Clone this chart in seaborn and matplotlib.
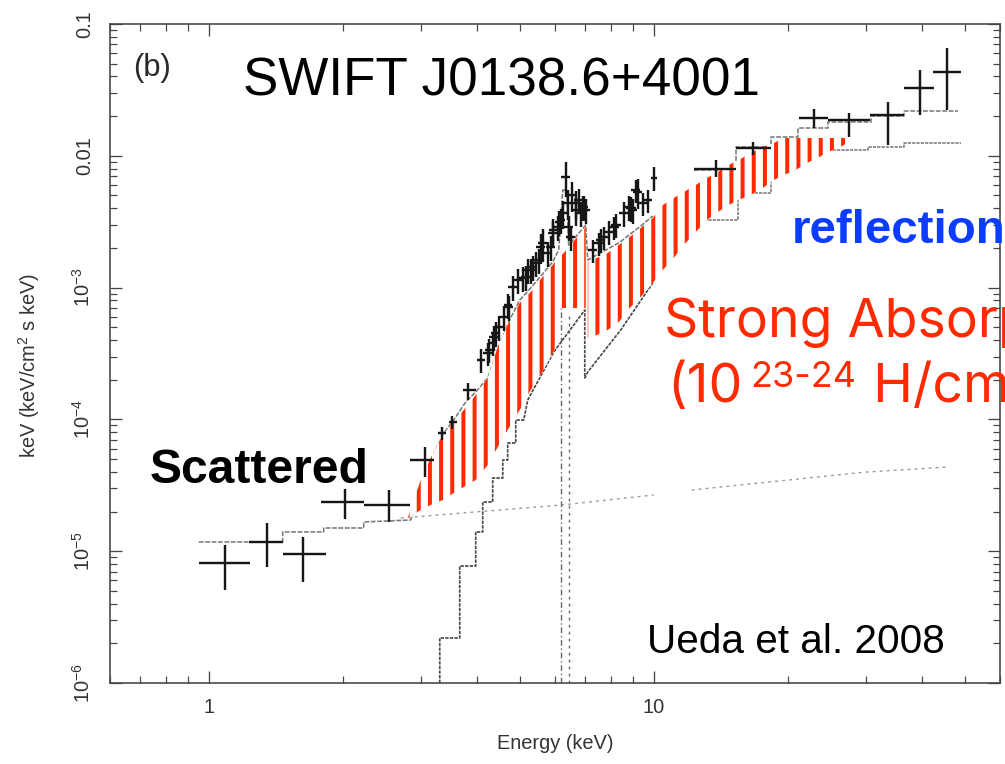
import numpy as np
import matplotlib
matplotlib.use("Agg")
import matplotlib.pyplot as plt
import seaborn as sns
from matplotlib.ticker import NullFormatter, LogLocator

# ---------------- data (Energy keV, E*F_E in keV/cm^2 s keV) ----------------
# broad low-energy bins
low_E   = [1.09, 1.35, 1.63, 2.02, 2.54, 3.07, 3.34, 3.53, 3.82]
low_Elo = [0.95, 1.23, 1.47, 1.79, 2.23, 2.84, 3.27, 3.46, 3.73]
low_Ehi = [1.24, 1.47, 1.83, 2.23, 2.83, 3.20, 3.42, 3.62, 3.98]
low_F   = [8.1e-6, 1.18e-5, 9.5e-6, 2.36e-5, 2.24e-5, 4.92e-5, 7.88e-5, 9.56e-5, 1.67e-4]
low_Flo = [5.1e-6, 7.6e-6, 5.8e-6, 1.75e-5, 1.66e-5, 3.66e-5, 7.0e-5, 8.5e-5, 1.4e-4]
low_Fhi = [1.11e-5, 1.64e-5, 1.29e-5, 2.96e-5, 2.90e-5, 6.2e-5, 8.8e-5, 1.07e-4, 1.9e-4]

# fine XIS bins
xis_E = [4.09, 4.236, 4.26, 4.347, 4.37, 4.416, 4.485, 4.60, 4.70, 4.723,
         4.82, 4.947, 5.08, 5.157, 5.211, 5.29, 5.347, 5.43, 5.515, 5.57,
         5.63, 5.78, 5.869, 5.929, 5.95, 6.09, 6.12, 6.19, 6.25, 6.34,
         6.408, 6.44, 6.51, 6.543, 6.68, 6.70, 6.784, 6.855, 6.92, 6.961,
         7.03, 7.29, 7.524, 7.60, 7.721, 7.92, 8.131, 8.22, 8.56, 8.784,
         8.88, 8.969, 9.11, 9.20, 9.44, 9.69, 10.0]
xis_F = [2.83e-4, 3.19e-4, 3.37e-4, 3.80e-4, 4.22e-4, 4.52e-4, 5.02e-4, 5.98e-4, 7.38e-4, 7.13e-4,
         1.01e-3, 1.142e-3, 1.18e-3, 1.203e-3, 1.36e-3, 1.36e-3, 1.433e-3, 1.54e-3, 1.62e-3, 2.03e-3,
         2.18e-3, 1.83e-3, 2.03e-3, 2.596e-3, 2.73e-3, 2.883e-3, 3.15e-3, 3.258e-3, 3.68e-3, 6.9e-3,
         4.38e-3, 2.88e-3, 2.42e-3, 5.04e-3, 3.88e-3, 4.39e-3, 4.62e-3, 3.68e-3, 4.09e-3, 4.09e-3,
         3.88e-3, 1.93e-3, 2.18e-3, 2.30e-3, 2.42e-3, 2.65e-3, 2.883e-3, 2.99e-3, 3.68e-3, 4.09e-3,
         4.02e-3, 3.88e-3, 5.50e-3, 5.31e-3, 4.38e-3, 4.62e-3, 6.8e-3]
xis_ferr = [0.2, 0.2, 0.2, 0.2, 0.22, 0.22, 0.22, 0.22, 0.22, 0.22,
            0.22, 0.22, 0.22, 0.22, 0.22, 0.22, 0.22, 0.22, 0.22, 0.26,
            0.28, 0.22, 0.22, 0.22, 0.22, 0.22, 0.22, 0.22, 0.24, 0.3,
            0.26, 0.22, 0.22, 0.26, 0.24, 0.24, 0.22, 0.22, 0.22, 0.22,
            0.22, 0.2, 0.2, 0.2, 0.2, 0.2, 0.2, 0.2, 0.22, 0.22,
            0.22, 0.22, 0.2, 0.26, 0.2, 0.2, 0.2]
xis_eerr = [0.022, 0.022, 0.022, 0.022, 0.022, 0.022, 0.022, 0.022, 0.022, 0.022,
            0.022, 0.022, 0.022, 0.022, 0.022, 0.022, 0.022, 0.022, 0.022, 0.022,
            0.022, 0.022, 0.022, 0.022, 0.022, 0.022, 0.022, 0.022, 0.022, 0.022,
            0.022, 0.022, 0.022, 0.022, 0.022, 0.022, 0.022, 0.022, 0.022, 0.022,
            0.022, 0.025, 0.025, 0.025, 0.025, 0.025, 0.025, 0.025, 0.025, 0.025,
            0.025, 0.025, 0.025, 0.025, 0.025, 0.025, 0.015]

# hard X-ray bins
hxd_E   = [13.8, 16.69, 22.9, 27.4, 33.6, 39.6, 45.5]
hxd_Elo = [12.3, 15.29, 21.2, 24.6, 30.7, 36.5, 42.4]
hxd_Ehi = [15.3, 18.32, 24.6, 30.7, 36.5, 42.6, 49.0]
hxd_F   = [8.0e-3, 1.15e-2, 0.0194, 0.0187, 0.0204, 0.0327, 0.0433]
hxd_Flo = [6.9e-3, 1.014e-2, 0.0163, 0.0139, 0.01208, 0.0204, 0.0223]
hxd_Fhi = [9.3e-3, 1.273e-2, 0.0225, 0.0211, 0.0256, 0.0448, 0.0658]

# total model (XIS part, polyline incl. step corners)
tot_xis_E = [0.95, 1.466, 1.466, 1.813, 1.813, 2.23, 2.23, 2.843, 3.154, 3.375, 3.553,
             3.78, 3.981, 4.236, 4.461, 4.723, 4.999, 5.292, 5.602, 5.929, 6.117,
             6.246, 6.376, 6.44, 6.645, 7.035, 7.108, 7.446, 8.343, 9.35, 9.949]
tot_xis_F = [1.175e-5, 1.175e-5, 1.40e-5, 1.40e-5, 1.50e-5, 1.50e-5, 1.667e-5, 1.725e-5,
             4.92e-5, 7.88e-5, 9.89e-5, 1.355e-4, 1.614e-4, 2.061e-4, 3.362e-4, 5.48e-4,
             8.05e-4, 9.93e-4, 1.246e-3, 1.564e-3, 1.929e-3, 5.50e-3, 5.50e-3, 2.104e-3,
             2.378e-3, 2.985e-3, 1.620e-3, 1.768e-3, 2.180e-3, 2.933e-3, 3.492e-3]
# total model (hard X-ray part, step edges / levels)
tot_hxd_E = [12.30, 15.29, 18.32, 21.07, 24.60, 30.73, 36.46, 48.21]
tot_hxd_F = [7.80e-3, 1.166e-2, 1.389e-2, 1.625e-2, 1.805e-2, 2.004e-2, 2.188e-2, 2.188e-2]

# absorbed transmitted component
tr_xis_E = [3.305, 3.305, 3.665, 3.665, 3.981, 3.981, 4.128, 4.128, 4.347, 4.347, 4.579,
            4.579, 4.697, 4.697, 4.897, 4.897, 5.104, 5.211, 5.96, 7.00, 7.00, 7.108,
            8.43, 9.949]
tr_xis_F = [1.0e-6, 2.195e-6, 2.195e-6, 7.72e-6, 7.72e-6, 1.40e-5, 1.40e-5, 2.362e-5,
            2.362e-5, 3.593e-5, 3.593e-5, 4.92e-5, 4.92e-5, 6.62e-5, 6.62e-5, 9.89e-5,
            9.89e-5, 1.404e-4, 3.245e-4, 6.76e-4, 2.061e-4, 2.289e-4, 4.77e-4, 1.083e-3]
tr_hxd_E = [12.95, 15.44, 18.32, 20.64, 24.10, 30.26, 36.46, 48.97]
tr_hxd_F = [3.258e-3, 5.22e-3, 7.80e-3, 1.050e-2, 1.107e-2, 1.166e-2, 1.250e-2, 1.250e-2]

# scattered component
sc_xis_E = [2.701, 6.19, 10.0]
sc_xis_F = [1.786e-5, 2.24e-5, 2.67e-5]
sc_hxd_E = [12.17, 29.8, 46.0]
sc_hxd_F = [2.913e-5, 3.98e-5, 4.355e-5]

# narrow iron lines
line_E = [6.19, 6.44]
line_top = [7.0e-4, 6.5e-4]

# hatched "strong absorption" band: low-energy side of the iron edge
hA_E  = [2.801, 2.995, 3.154, 3.357, 3.553, 3.741, 3.981, 4.236, 4.461, 4.723, 4.999,
         5.292, 5.602, 5.929, 5.991, 6.053, 6.278, 6.645, 7.035]
hA_hi = [1.786e-5, 3.469e-5, 5.095e-5, 7.61e-5, 9.56e-5, 1.178e-4, 1.531e-4, 2.061e-4,
         3.542e-4, 5.385e-4, 7.64e-4, 9.26e-4, 1.183e-3, 1.484e-3, 1.564e-3, 1.620e-3,
         1.830e-3, 2.297e-3, 2.883e-3]
hA_lo = [1.786e-5, 2.054e-5, 2.244e-5, 2.446e-5, 2.764e-5, 3.07e-5, 3.469e-5, 4.51e-5,
         6.17e-5, 8.60e-5, 1.178e-4, 1.672e-4, 2.249e-4, 3.19e-4, 3.362e-4, 7.00e-4,
         7.00e-4, 7.00e-4, 7.00e-4]
# high-energy side of the iron edge
hB_E  = [7.108, 7.446, 7.882, 8.343, 8.831, 9.350, 9.949, 10.48, 11.09, 11.68, 12.43,
         13.16, 13.93, 14.74, 15.52, 16.52, 17.58, 18.61, 19.60, 20.85, 22.07, 23.36,
         24.60, 26.04, 27.72]
hB_hi = [1.564e-3, 1.677e-3, 1.830e-3, 2.104e-3, 2.420e-3, 2.833e-3, 3.374e-3, 4.232e-3,
         4.783e-3, 5.313e-3, 6.004e-3, 6.785e-3, 7.536e-3, 8.516e-3, 9.29e-3, 1.050e-2,
         1.166e-2, 1.250e-2, 1.365e-2, 1.365e-2, 1.365e-2, 1.365e-2, 1.365e-2, 1.365e-2,
         1.365e-2]
hB_lo = [4.145e-4, 4.37e-4, 4.77e-4, 5.48e-4, 7.00e-4, 8.49e-4, 1.083e-3, 1.360e-3,
         1.677e-3, 2.104e-3, 2.642e-3, 3.258e-3, 3.746e-3, 4.232e-3, 4.62e-3, 5.04e-3,
         5.70e-3, 6.55e-3, 7.15e-3, 7.80e-3, 8.82e-3, 9.62e-3, 1.069e-2, 1.146e-2,
         1.296e-2]

xtick_vals = [1, 10]
xtick_labels = ["1", "10"]
ytick_vals = [1e-1, 1e-2, 1e-3, 1e-4, 1e-5, 1e-6]
ytick_labels = ["0.1", "0.01", r"$\mathregular{10^{-3}}$", r"$\mathregular{10^{-4}}$",
                r"$\mathregular{10^{-5}}$", r"$\mathregular{10^{-6}}$"]

# ---------------- style ----------------
DPI = 67
PT = 72.0 / DPI
RED = "#ff2a00"
BLUE = "#0b3cff"
sns.set_theme(style="ticks")
plt.rcParams["font.family"] = ["Liberation Sans", "DejaVu Sans"]
plt.rcParams["mathtext.fontset"] = "custom"
plt.rcParams["mathtext.rm"] = "Liberation Sans"
plt.rcParams["hatch.linewidth"] = 4.0 * PT
plt.rcParams["hatch.color"] = RED

fig = plt.figure(figsize=(1005 / DPI, 764 / DPI), dpi=DPI)
fig.patch.set_facecolor("white")
ax = fig.add_axes([110 / 1005, 1 - 683 / 764, 890 / 1005, 659 / 764])
ax.set_xscale("log")
ax.set_yscale("log")
ax.set_facecolor("white")

GRAY = "#7a7a7a"
DARK = "#4a4a4a"

def model(E, F, **kw):
    sns.lineplot(x=E, y=F, ax=ax, sort=False, estimator=None, legend=False, **kw)

model(tot_xis_E, tot_xis_F, color=GRAY, lw=1.6 * PT, linestyle=(0, (3, 1)), zorder=2)
model(tot_hxd_E, tot_hxd_F, color=GRAY, lw=1.6 * PT, linestyle=(0, (3, 1)),
      drawstyle="steps-post", zorder=2)
model(tr_xis_E, tr_xis_F, color=DARK, lw=1.7 * PT, linestyle=(0, (2, 0.7)), zorder=2)
model(tr_hxd_E, tr_hxd_F, color=GRAY, lw=1.6 * PT, linestyle=(0, (2, 0.7)),
      drawstyle="steps-post", zorder=2)
model(sc_xis_E, sc_xis_F, color="#999999", lw=1.4 * PT, linestyle=(0, (2, 3)), zorder=2)
model(sc_hxd_E, sc_hxd_F, color="#999999", lw=1.4 * PT, linestyle=(0, (2, 3)), zorder=2)
for e, top, ls in zip(line_E, line_top, [(0, (4, 2, 1, 2)), (0, (2, 3))]):
    model([e, e], [1.0e-6, top], color="#666666", lw=1.4 * PT, linestyle=ls, zorder=2)

# hatched absorption band
for E, lo, hi in [(hA_E, hA_lo, hA_hi), (hB_E, hB_lo, hB_hi)]:
    ax.fill_between(E, lo, hi, facecolor="white", edgecolor=RED, hatch="|",
                    linewidth=0, zorder=3)

# data crosses
ekw = dict(fmt="none", ecolor="#161616", elinewidth=2.4 * PT, capsize=0, zorder=4)
lE, lF = np.array(low_E), np.array(low_F)
ax.errorbar(lE, lF, xerr=[lE - np.array(low_Elo), np.array(low_Ehi) - lE],
            yerr=[lF - np.array(low_Flo), np.array(low_Fhi) - lF], **ekw)
xE, xF = np.array(xis_E), np.array(xis_F)
xf, xe = np.array(xis_ferr), np.array(xis_eerr)
ax.errorbar(xE, xF, xerr=xE * xe, yerr=xF * xf, **ekw)
hE, hF = np.array(hxd_E), np.array(hxd_F)
ax.errorbar(hE, hF, xerr=[hE - np.array(hxd_Elo), np.array(hxd_Ehi) - hE],
            yerr=[hF - np.array(hxd_Flo), np.array(hxd_Fhi) - hF], **ekw)

# axes
ax.set_xlim(0.6, 60)
ax.set_ylim(1e-6, 0.1)
ax.set_xticks(xtick_vals, labels=xtick_labels)
ax.set_yticks(ytick_vals, labels=ytick_labels)
ax.xaxis.set_minor_locator(LogLocator(base=10, subs=np.arange(2, 10)))
ax.yaxis.set_minor_locator(LogLocator(base=10, subs=np.arange(2, 10)))
ax.xaxis.set_minor_formatter(NullFormatter())
ax.yaxis.set_minor_formatter(NullFormatter())
ax.tick_params(which="both", direction="in", top=True, right=True,
               color="#444444", labelcolor="#333333")
ax.tick_params(which="major", length=12 * PT, width=1.3 * PT, labelsize=20 * PT)
ax.tick_params(which="minor", length=7 * PT, width=1.2 * PT)
ax.tick_params(axis="y", which="major", pad=16 * PT)
ax.tick_params(axis="x", which="major", pad=15 * PT)
for lbl in ax.get_yticklabels():
    lbl.set_rotation(90)
    lbl.set_va("center")
    lbl.set_ha("right")
for s in ax.spines.values():
    s.set_linewidth(1.6 * PT)
    s.set_color("#444444")
    s.set_visible(True)

ax.set_xlabel("Energy (keV)", fontsize=20 * PT, color="#333333", labelpad=17 * PT)
ax.set_ylabel("keV (keV/cm$^{\\mathregular{2}}$ s keV)", fontsize=20 * PT,
              color="#333333", labelpad=30 * PT)
ax.yaxis.label.set_y(0.481)

# annotations (figure pixel positions)
def ftext(x, y, s, **kw):
    return fig.text(x / 1005, 1 - y / 764, s, va="baseline", ha="left", **kw)

ftext(133, 76, "(b)", fontsize=31 * PT, color="#2a2a2a")
ftext(243, 95, "SWIFT J0138.6+4001", fontsize=53 * PT, color="black")
ftext(150, 483, "Scattered", fontsize=48 * PT, fontweight="bold", color="black")
ftext(792, 243, "reflection", fontsize=47.5 * PT, fontweight="bold", color=BLUE)
ftext(647, 653, "Ueda et al. 2008", fontsize=40.5 * PT, color="black")
RFONT = ["Inter", "DejaVu Sans"]
ftext(664, 337, "Strong Absorption", fontsize=53.6 * PT, color=RED, family=RFONT)

# second red line with superscripts, built piece by piece
fig.canvas.draw()
renderer = fig.canvas.get_renderer()
xcur = 667
pieces = [("(10", 0, 53.6, 8), ("23-24", 15, 36, 2), (" H/cm", 0, 53.6, 3),
          ("2", 15, 36, 2), (")", 0, 53.6, 0)]
for s, rise, size, gap in pieces:
    t = ftext(xcur, 402 - rise, s, fontsize=size * PT, color=RED, family=RFONT)
    bb = t.get_window_extent(renderer=renderer)
    xcur = bb.x1 + gap

fig.savefig("out.png", dpi=DPI, facecolor="white")
